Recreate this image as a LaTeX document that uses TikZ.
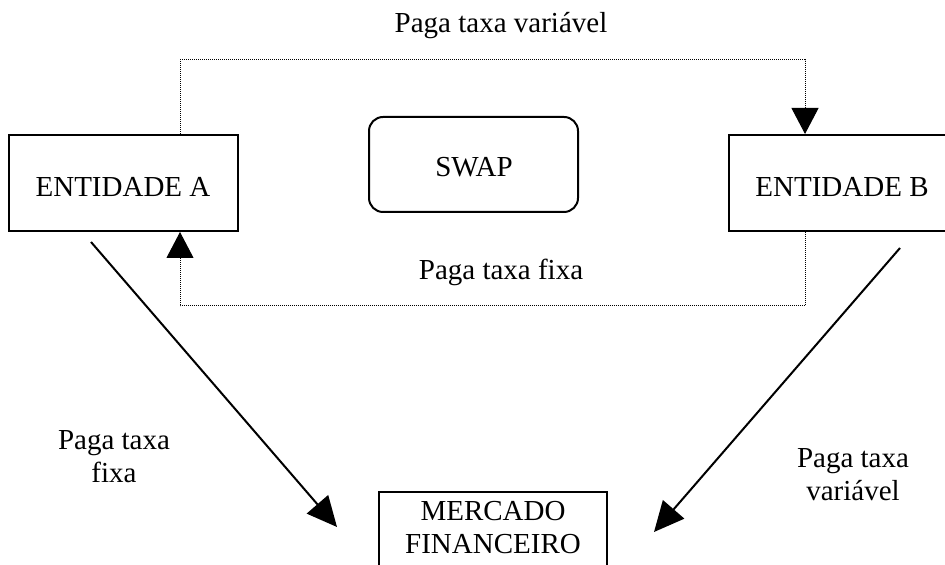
\documentclass[tikz,border=0pt]{standalone}
\usepackage{fontspec}
\setmainfont{Liberation Serif}
\usetikzlibrary{arrows.meta}
\begin{document}
\begin{tikzpicture}[x=0.5pt,y=-0.5pt,
  txt/.style={font=\fontsize{14.5}{16.5}\selectfont, inner sep=0pt, align=center},
  box/.style={draw, line width=1pt, inner sep=0pt},
  flow/.style={line width=0.5pt, dash pattern=on 0.5pt off 0.5pt,
    -{Triangle[length=13pt,width=13.5pt]}},
  pay/.style={line width=1pt, -{Triangle[length=15pt,width=14pt]}}]
\clip (0,0) rectangle (945,565);

% the two parties
\node[box, minimum width=114.5pt, minimum height=48pt] (ea) at (123.5,183) {};
\node[txt, anchor=base] (eat) at (123,197) {ENTIDADE A};
\node[box, minimum width=113pt, minimum height=48pt] (eb) at (842,183) {};
\node[txt, anchor=base] (ebt) at (842,197) {ENTIDADE B};

% the contract
\node[box, rounded corners=7pt, minimum width=104.5pt, minimum height=47.5pt] (sw) at (473.5,164.5) {};
\node[txt, anchor=base] (swt) at (474,177) {SWAP};

% the market
\node[box, minimum width=114pt, minimum height=50pt] (mk) at (493,542) {};
\node[txt] (mkt) at (493,528) {MERCADO\\FINANCEIRO};

% helper positions for the dotted loop
\coordinate (lx) at (180,0);
\coordinate (rx) at (805,0);
\coordinate (top) at (500,60);
\coordinate (bot) at (500,306);

\draw[flow] (ea.north -| lx) |- (top -| rx) -- (eb.north -| rx);
\draw[flow] (eb.south -| rx) |- (bot -| lx) -- (ea.south -| lx);

\node[txt, anchor=base] (lv) at (501,33) {Paga taxa variável};
\node[txt, anchor=base] (lf) at (501,280) {Paga taxa fixa};

% payments to the market
\coordinate (s1) at (91,242);
\coordinate (e1) at (337,527);
\coordinate (s2) at (900,248);
\coordinate (e2) at (654,532);
\draw[pay] (s1) -- (e1);
\draw[pay] (s2) -- (e2);

\node[txt] (pl) at (114,457) {Paga taxa\\fixa};
\node[txt] (pr) at (853,475) {Paga taxa\\variável};
\end{tikzpicture}
\end{document}
